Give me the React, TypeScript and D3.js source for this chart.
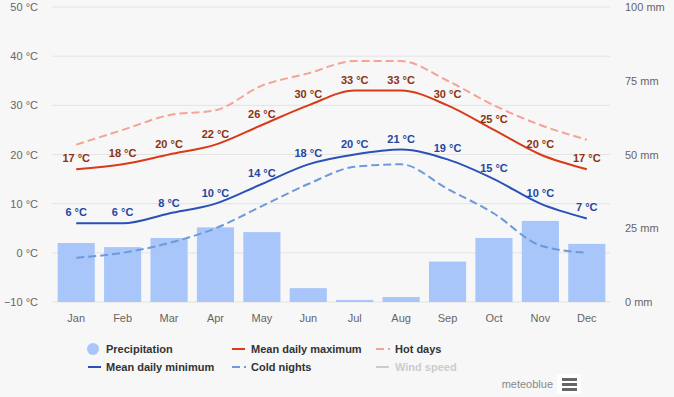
import React from 'react';
import * as d3 from 'd3';

const months = ['Jan', 'Feb', 'Mar', 'Apr', 'May', 'Jun', 'Jul', 'Aug', 'Sep', 'Oct', 'Nov', 'Dec'];
const precipitation = [20, 18.6, 21.7, 25.3, 23.7, 4.7, 0.7, 1.7, 13.7, 21.7, 27.5, 19.7];
const meanMax = [17, 18, 20, 22, 26, 30, 33, 33, 30, 25, 20, 17];
const meanMin = [6, 6, 8, 10, 14, 18, 20, 21, 19, 15, 10, 7];
const hotDays = [22, 25, 28, 29, 34, 36.5, 39, 39, 35, 30, 26, 23];
const coldNights = [-1, 0, 2, 5, 9.5, 14, 17.5, 18, 13, 8, 1.5, 0];
const tempTicks = [-10, 0, 10, 20, 30, 40, 50];
const precipTicks = [0, 25, 50, 75, 100];

const W = 674;
const H = 397;
const plot = { left: 53, right: 610, top: 7, bottom: 302 };
const font = '"Liberation Sans", Arial, sans-serif';

const App = () => {
  const x = d3.scaleBand().domain(months).range([plot.left, plot.right]).paddingInner(0.2).paddingOuter(0.1);
  const xc = (m: string) => (x(m) as number) + x.bandwidth() / 2;
  const yT = d3.scaleLinear().domain([-10, 50]).range([plot.bottom, plot.top]);
  const yP = d3.scaleLinear().domain([0, 100]).range([plot.bottom, plot.top]);

  const line = (vals: number[]) =>
    d3.line<number>()
      .x((_, i) => xc(months[i]))
      .y(d => yT(d))
      .curve(d3.curveMonotoneX)(vals) as string;

  return (
    <svg width={W} height={H} style={{ position: 'absolute', left: 0, top: 0, fontFamily: font }}>
      <rect width={W} height={H} fill="#f7f7f7" />

      {/* grid + left axis */}
      {tempTicks.map(t => (
        <g key={t}>
          <line x1={plot.left - 1} x2={plot.right} y1={yT(t)} y2={yT(t)} stroke="#e3e3e3" strokeWidth={1} />
          <text x={38} y={yT(t) + 4} textAnchor="end" fontSize={11} fill="#666">{`${t} °C`.replace('-', '−')}</text>
        </g>
      ))}

      {/* right axis */}
      {precipTicks.map(t => (
        <text key={t} x={625} y={yP(t) + 4} fontSize={11} fill="#666">{`${t} mm`}</text>
      ))}

      {/* bars */}
      {months.map((m, i) => (
        <rect key={m} x={x(m)} y={yP(precipitation[i])} width={x.bandwidth()}
          height={plot.bottom - yP(precipitation[i])} fill="#a9c6fa" />
      ))}

      {/* x labels */}
      {months.map(m => (
        <text key={m} x={xc(m)} y={322} textAnchor="middle" fontSize={11} fill="#666">{m}</text>
      ))}

      {/* lines */}
      <path d={line(hotDays)} fill="none" stroke="#f4a394" strokeWidth={2} strokeDasharray="8,4" />
      <path d={line(coldNights)} fill="none" stroke="#6d9ad8" strokeWidth={2} strokeDasharray="8,4" />
      <path d={line(meanMax)} fill="none" stroke="#d93a17" strokeWidth={2} />
      <path d={line(meanMin)} fill="none" stroke="#2a51b8" strokeWidth={2} />

      {/* data labels */}
      {months.map((m, i) => (
        <text key={'mx' + m} x={xc(m)} y={yT(meanMax[i]) - 7} textAnchor="middle" fontSize={11}
          fontWeight="bold" fill="#8b3210">{`${meanMax[i]} °C`}</text>
      ))}
      {months.map((m, i) => (
        <text key={'mn' + m} x={xc(m)} y={yT(meanMin[i]) - 7} textAnchor="middle" fontSize={11}
          fontWeight="bold" fill="#2646a0">{`${meanMin[i]} °C`}</text>
      ))}

      {/* legend */}
      <g fontSize={11} fontWeight="bold" fill="#333">
        <circle cx={93} cy={349} r={6} fill="#a9c6fa" />
        <text x={106} y={353}>Precipitation</text>
        <line x1={232} x2={245} y1={349} y2={349} stroke="#d93a17" strokeWidth={2} />
        <text x={251} y={353}>Mean daily maximum</text>
        <line x1={376} x2={390} y1={349} y2={349} stroke="#f4a394" strokeWidth={2} strokeDasharray="8,4" />
        <text x={395} y={353}>Hot days</text>
        <line x1={88} x2={101} y1={367} y2={367} stroke="#2a51b8" strokeWidth={2} />
        <text x={106} y={371}>Mean daily minimum</text>
        <line x1={232} x2={246} y1={367} y2={367} stroke="#6d9ad8" strokeWidth={2} strokeDasharray="8,4" />
        <text x={251} y={371}>Cold nights</text>
        <line x1={376} x2={389} y1={367} y2={367} stroke="#cccccc" strokeWidth={2} />
        <text x={395} y={371} fill="#cccccc">Wind speed</text>
      </g>

      {/* credit + menu */}
      <text x={553} y={388} textAnchor="end" fontSize={11} fill="#888">meteoblue</text>
      <rect x={557} y={374} width={24} height={20} fill="#ffffff" />
      {[378, 383, 388].map(yy => (
        <rect key={yy} x={562} y={yy} width={15} height={3} fill="#666" />
      ))}
    </svg>
  );
};

export default App;
